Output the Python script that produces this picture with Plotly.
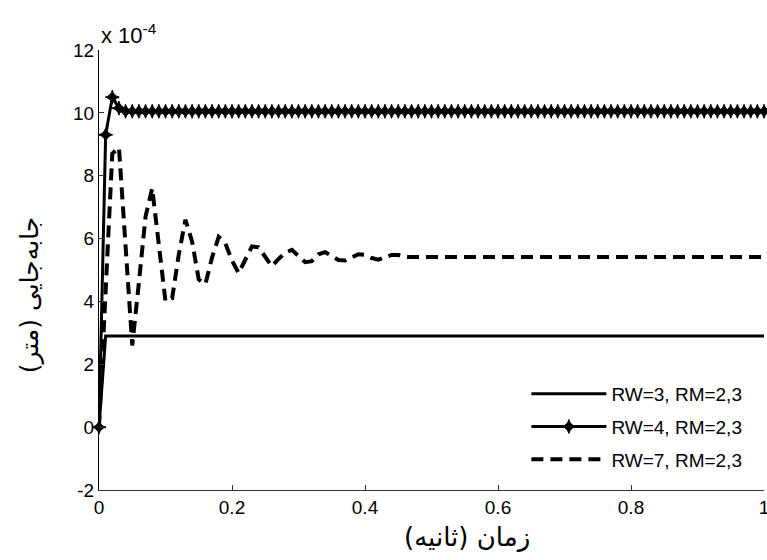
import numpy as np
import plotly.graph_objects as go

# time grid (seconds), sampled every 0.01 s
t = [round(i * 0.01, 2) for i in range(101)]

# displacement values in units of 1e-4 m
rw3_t = [0.0, 0.01, 1.0]
rw3 = [0.0, 2.9, 2.9]

rw4 = [0.0, 9.3, 10.5, 10.15,
       10.05, 10.05, 10.05, 10.05, 10.05, 10.05, 10.05, 10.05, 10.05, 10.05,
       10.05, 10.05, 10.05, 10.05, 10.05, 10.05, 10.05, 10.05, 10.05, 10.05,
       10.05, 10.05, 10.05, 10.05, 10.05, 10.05, 10.05, 10.05, 10.05, 10.05,
       10.05, 10.05, 10.05, 10.05, 10.05, 10.05, 10.05, 10.05, 10.05, 10.05,
       10.05, 10.05, 10.05, 10.05, 10.05, 10.05, 10.05, 10.05, 10.05, 10.05,
       10.05, 10.05, 10.05, 10.05, 10.05, 10.05, 10.05, 10.05, 10.05, 10.05,
       10.05, 10.05, 10.05, 10.05, 10.05, 10.05, 10.05, 10.05, 10.05, 10.05,
       10.05, 10.05, 10.05, 10.05, 10.05, 10.05, 10.05, 10.05, 10.05, 10.05,
       10.05, 10.05, 10.05, 10.05, 10.05, 10.05, 10.05, 10.05, 10.05, 10.05,
       10.05, 10.05, 10.05, 10.05, 10.05, 10.05, 10.05]

rw7 = [0.0, 4.4, 8.7, 8.9, 5.8, 2.6, 4.6, 6.7, 7.6, 5.8,
       4.0, 4.1, 5.5, 6.6, 5.9, 4.7, 4.55, 5.4, 6.05, 5.85,
       5.3, 4.9, 5.3, 5.75, 5.72, 5.4, 5.12, 5.35, 5.55, 5.64,
       5.45, 5.25, 5.28, 5.5, 5.57, 5.45, 5.32, 5.3, 5.4, 5.5,
       5.48, 5.38, 5.33, 5.4, 5.48, 5.48, 5.42, 5.41, 5.41, 5.41,
       5.41, 5.41, 5.41, 5.41, 5.41, 5.41, 5.41, 5.41, 5.41, 5.41,
       5.41, 5.41, 5.41, 5.41, 5.41, 5.41, 5.41, 5.41, 5.41, 5.41,
       5.41, 5.41, 5.41, 5.41, 5.41, 5.41, 5.41, 5.41, 5.41, 5.41,
       5.41, 5.41, 5.41, 5.41, 5.41, 5.41, 5.41, 5.41, 5.41, 5.41,
       5.41, 5.41, 5.41, 5.41, 5.41, 5.41, 5.41, 5.41, 5.41, 5.41,
       5.41]

x_ticks = [0, 0.2, 0.4, 0.6, 0.8, 1]
x_labels = ["0", "0.2", "0.4", "0.6", "0.8", "1"]
y_ticks = [-2, 0, 2, 4, 6, 8, 10, 12]
y_labels = ["-2", "0", "2", "4", "6", "8", "10", "12"]

names = ["RW=3, RM=2,3", "RW=4, RM=2,3", "RW=7, RM=2,3"]
x_title = "زمان (ثانیه)"
y_title = "جابه‌جایی (متر)"

fig = go.Figure()
fig.add_trace(go.Scatter(x=rw3_t, y=rw3, mode="lines", name=names[0], legendgroup="a",
                         line=dict(color="black", width=3)))
fig.add_trace(go.Scatter(x=t, y=rw4, mode="lines+markers", name=names[1], legendgroup="b",
                         line=dict(color="black", width=3),
                         marker=dict(symbol="star-diamond", size=10, color="black",
                                     line=dict(color="black", width=1)),
                         cliponaxis=False))
fig.add_trace(go.Scatter(x=t, y=rw7, mode="lines", name=names[2], legendgroup="c",
                         line=dict(color="black", width=4, dash="12px,7px")))

fig.update_layout(
    width=767, height=560,
    margin=dict(l=99, r=3, t=50, b=70, autoexpand=False),
    paper_bgcolor="white", plot_bgcolor="white",
    font=dict(family="Liberation Sans, Arial, sans-serif", size=19, color="black"),
    showlegend=True,
    legend=dict(x=0.975, y=0.025, xanchor="right", yanchor="bottom",
                bgcolor="rgba(255,255,255,0)", borderwidth=0,
                font=dict(size=19), itemwidth=75, tracegroupgap=5),
    xaxis=dict(range=[0, 1], tickvals=x_ticks, ticktext=x_labels,
               showgrid=False, zeroline=False, showline=True, automargin=False,
               linecolor="#333", linewidth=1, ticks="inside", ticklen=5,
               tickcolor="#333", ticklabeloverflow="allow"),
    yaxis=dict(range=[-2, 12], tickvals=y_ticks, ticktext=y_labels,
               showgrid=False, zeroline=False, showline=True, automargin=False,
               linecolor="black", linewidth=1, ticks="inside", ticklen=5,
               tickcolor="#333"),
    annotations=[
        dict(text="x 10<sup>-4</sup>", xref="paper", yref="paper",
             x=0.0, y=1.0, xanchor="left", yanchor="bottom",
             showarrow=False, font=dict(size=22), yshift=0),
        dict(text=x_title, xref="paper", yref="paper", x=0.553, y=-0.107,
             xanchor="center", yanchor="middle", showarrow=False,
             font=dict(family="DejaVu Sans", size=26)),
        dict(text=y_title, xref="paper", yref="paper", x=-0.105, y=0.443,
             xanchor="center", yanchor="middle", showarrow=False, textangle=-90,
             font=dict(family="DejaVu Sans", size=25)),
    ],
)

fig.write_html("out.html")
